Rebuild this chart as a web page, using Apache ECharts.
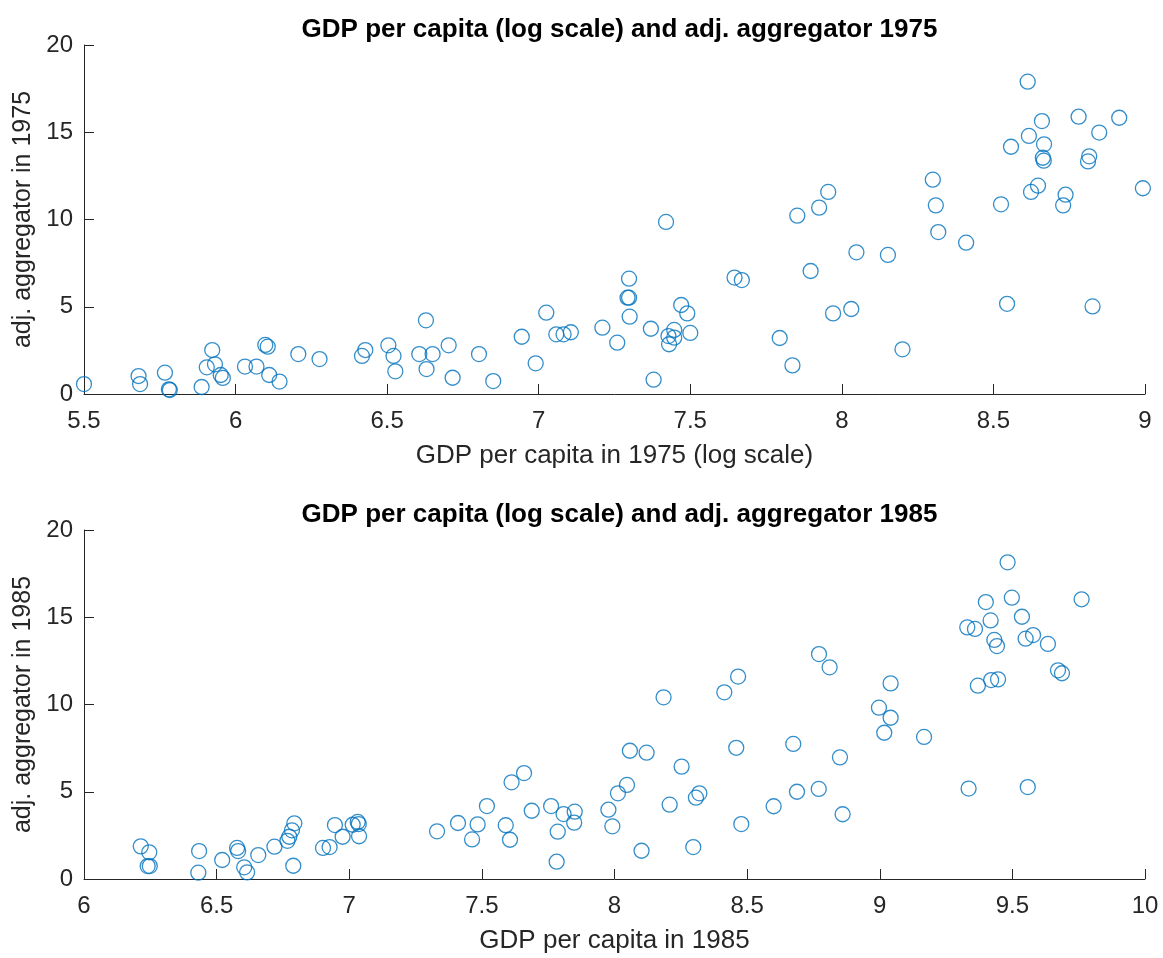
<!DOCTYPE html>
<html>
<head>
<meta charset="utf-8">
<script src="https://cdn.jsdelivr.net/npm/echarts@6/dist/echarts.min.js"></script>
<style>
html,body{margin:0;padding:0;background:#fff;}
#chart{width:1163px;height:958px;}
</style>
</head>
<body>
<div id="chart"></div>
<script>
const titles = ['GDP per capita (log scale) and adj. aggregator 1975', 'GDP per capita (log scale) and adj. aggregator 1985'];
const xNames = ['GDP per capita in 1975 (log scale)', 'GDP per capita in 1985'];
const yNames = ['adj. aggregator in 1975', 'adj. aggregator in 1985'];

const x1975 = [5.50,5.68,5.685,5.767,5.78,5.783,5.888,5.923,5.905,5.932,5.951,5.958,6.031,6.069,6.098,6.106,6.111,6.145,6.207,6.277,6.417,6.428,6.504,6.521,6.527,6.628,6.606,6.65,6.63,6.703,6.716,6.803,6.85,6.944,6.99,7.025,7.058,7.082,7.106,7.21,7.259,7.298,7.293,7.298,7.30,7.37,7.379,7.42,7.428,7.447,7.447,7.43,7.47,7.49,7.50,7.646,7.67,7.795,7.837,7.853,7.897,7.925,7.955,7.971,8.031,8.048,8.152,8.20,8.30,8.31,8.318,8.41,8.525,8.545,8.558,8.613,8.617,8.624,8.647,8.66,8.663,8.666,8.667,8.73,8.738,8.781,8.812,8.816,8.827,8.849,8.915,8.993];
const y1975 = [0.57,1.03,0.57,1.22,0.27,0.23,0.40,2.52,1.53,1.70,1.09,0.92,1.57,1.57,2.81,2.71,1.09,0.71,2.29,2.00,2.18,2.52,2.79,2.18,1.30,4.22,2.29,2.29,1.43,2.79,0.93,2.29,0.74,3.28,1.76,4.66,3.42,3.42,3.54,3.80,2.94,6.61,5.52,5.52,4.43,3.74,0.82,9.86,3.32,3.67,3.23,2.85,5.10,4.62,3.50,6.67,6.53,3.21,1.64,10.22,7.05,10.68,11.58,4.62,4.87,8.12,7.97,2.56,12.28,10.81,9.28,8.67,10.87,5.17,14.17,17.9,14.79,11.58,11.94,15.64,13.54,13.37,14.31,10.81,11.42,15.89,13.33,13.62,5.02,14.98,15.83,11.79];

const x1985 = [6.214,6.246,6.24,6.248,6.434,6.431,6.521,6.577,6.581,6.604,6.615,6.657,6.718,6.767,6.774,6.784,6.793,6.789,6.901,6.926,6.946,6.975,7.013,7.032,7.036,7.037,7.331,7.41,7.463,7.484,7.519,7.59,7.606,7.612,7.659,7.688,7.761,7.786,7.782,7.808,7.85,7.848,7.977,7.992,8.013,8.047,8.058,8.121,8.102,8.185,8.208,8.253,8.297,8.307,8.32,8.414,8.466,8.459,8.478,8.60,8.674,8.688,8.77,8.771,8.811,8.85,8.86,8.997,9.017,9.041,9.041,9.167,9.335,9.33,9.359,9.37,9.40,9.418,9.42,9.432,9.442,9.446,9.482,9.498,9.536,9.55,9.558,9.578,9.634,9.672,9.687,9.761];
const y1985 = [1.87,1.53,0.74,0.74,1.60,0.36,1.09,1.78,1.60,0.67,0.38,1.37,1.85,2.19,2.42,2.79,3.19,0.76,1.78,1.83,3.09,2.42,3.11,3.27,3.15,2.45,2.73,3.21,2.27,3.13,4.18,3.08,2.25,5.54,6.07,3.91,4.18,2.71,0.99,3.72,3.86,3.23,3.97,3.02,4.91,5.39,7.35,7.24,1.62,10.41,4.26,6.44,1.83,4.66,4.91,10.70,11.60,7.52,3.15,4.17,7.74,5.00,5.16,12.89,12.13,6.97,3.71,9.82,8.38,11.21,9.24,8.14,5.18,14.42,14.33,11.08,15.87,14.82,11.40,13.70,13.35,11.44,18.15,16.12,15.03,13.77,5.27,13.98,13.47,11.96,11.79,16.03];

const xRanges = [[5.5, 9, 0.5], [6, 10, 0.5]];
const yRange = [0, 20, 5];

const FONT = '"Liberation Sans", Arial, Helvetica, sans-serif';
const TXT = '#262626';
const BLUE = '#0072BD';

function pairs(xs, ys){ return xs.map((x,i)=>[x, ys[i]]); }

const grids = [
  {left:84, right:18, top:45, height:349, containLabel:false},
  {left:84, right:18, top:530, height:349, containLabel:false}
];

function xAxis(i){
  return {
    type:'value', gridIndex:i, min:xRanges[i][0], max:xRanges[i][1], interval:xRanges[i][2],
    name:xNames[i], nameLocation:'middle', nameGap:49,
    nameTextStyle:{fontFamily:FONT, fontSize:26, color:TXT},
    axisLine:{show:true, lineStyle:{color:TXT, width:1}},
    axisTick:{show:true, inside:true, length:10, lineStyle:{color:TXT, width:1}},
    axisLabel:{fontFamily:FONT, fontSize:24, color:TXT, margin:15},
    splitLine:{show:false}
  };
}
function yAxis(i){
  return {
    type:'value', gridIndex:i, min:yRange[0], max:yRange[1], interval:yRange[2],
    name:yNames[i], nameLocation:'middle', nameGap:42,
    nameTextStyle:{fontFamily:FONT, fontSize:25, color:TXT},
    axisLine:{show:true, lineStyle:{color:TXT, width:1}},
    axisTick:{show:true, inside:true, length:10, lineStyle:{color:TXT, width:1}},
    axisLabel:{fontFamily:FONT, fontSize:24, color:TXT, margin:11},
    splitLine:{show:false}
  };
}

const option = {
  backgroundColor:'#fff',
  animation:false,
  title:[
    {text:titles[0], left:614.5, textAlign:'center', top:12, textStyle:{fontFamily:FONT, fontSize:26, fontWeight:'bold', color:'#000'}},
    {text:titles[1], left:614.5, textAlign:'center', top:497, textStyle:{fontFamily:FONT, fontSize:26, fontWeight:'bold', color:'#000'}}
  ],
  grid:grids,
  xAxis:[xAxis(0), xAxis(1)],
  yAxis:[yAxis(0), yAxis(1)],
  series:[
    {type:'scatter', xAxisIndex:0, yAxisIndex:0, data:pairs(x1975, y1975), symbol:'circle', symbolSize:15,
     itemStyle:{color:'rgba(0,0,0,0)', borderColor:BLUE, borderWidth:1.3}},
    {type:'scatter', xAxisIndex:1, yAxisIndex:1, data:pairs(x1985, y1985), symbol:'circle', symbolSize:15,
     itemStyle:{color:'rgba(0,0,0,0)', borderColor:BLUE, borderWidth:1.3}}
  ]
};

const chart = echarts.init(document.getElementById('chart'), null, {renderer:'canvas'});
chart.setOption(option);
</script>
</body>
</html>
